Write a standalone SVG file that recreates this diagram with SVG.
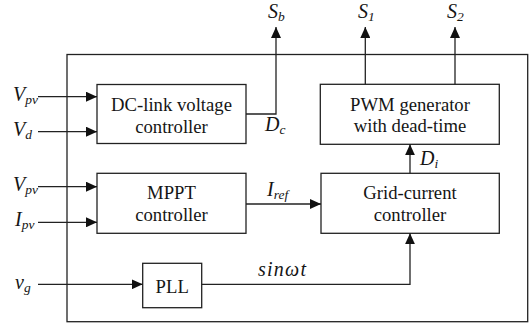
<svg xmlns="http://www.w3.org/2000/svg" width="532" height="330" viewBox="0 0 532 330">
<style>
.box{fill:#fff;stroke:#222;stroke-width:1.3}
.ln{fill:none;stroke:#222;stroke-width:1.3}
text{font-family:"Liberation Serif","Noto Serif","DejaVu Serif",Tinos,"Times New Roman",Times,serif}
.t{font-size:18.7px;fill:#151515;text-anchor:middle}
.l{font-size:20px;font-style:italic;fill:#151515}
.s{font-size:13.5px}
</style>
<defs>
<marker id="ah" markerWidth="11" markerHeight="10" refX="11" refY="5" orient="auto" markerUnits="userSpaceOnUse">
<path d="M0,0 L11,5 L0,10 Z" fill="#111"/>
</marker>
</defs>
<rect x="67" y="54.5" width="460.7" height="267.2" class="ln"/>
<g id="dclink">
<rect class="box" x="97" y="84.5" width="149" height="59"/>
<text class="t" x="171.5" y="111">DC-link voltage</text>
<text class="t" x="171.5" y="133">controller</text>
</g>
<g id="pwm">
<rect class="box" x="320.3" y="84.3" width="179" height="60"/>
<text class="t" x="410" y="110.5">PWM generator</text>
<text class="t" x="410" y="132">with dead-time</text>
</g>
<g id="mppt">
<rect class="box" x="97" y="173.3" width="149" height="60"/>
<text class="t" x="171.5" y="198.5">MPPT</text>
<text class="t" x="171.5" y="220.5">controller</text>
</g>
<g id="grid">
<rect class="box" x="321" y="173.3" width="178.3" height="60"/>
<text class="t" x="410" y="198.5">Grid-current</text>
<text class="t" x="410" y="220.5">controller</text>
</g>
<g id="pll">
<rect class="box" x="142.7" y="263.3" width="59" height="44.4"/>
<text class="t" x="172.2" y="293">PLL</text>
</g>
<g id="connectors">
<line class="ln" x1="38" y1="96.7" x2="97" y2="96.7" marker-end="url(#ah)"/>
<line class="ln" x1="38" y1="131.7" x2="97" y2="131.7" marker-end="url(#ah)"/>
<line class="ln" x1="38" y1="186.7" x2="97" y2="186.7" marker-end="url(#ah)"/>
<line class="ln" x1="38" y1="222.3" x2="97" y2="222.3" marker-end="url(#ah)"/>
<line class="ln" x1="38" y1="284.3" x2="142.7" y2="284.3" marker-end="url(#ah)"/>
<polyline class="ln" points="246,114 276,114 276,27" marker-end="url(#ah)"/>
<line class="ln" x1="365.3" y1="84.3" x2="365.3" y2="27" marker-end="url(#ah)"/>
<line class="ln" x1="455" y1="84.3" x2="455" y2="27" marker-end="url(#ah)"/>
<line class="ln" x1="410" y1="173.3" x2="410" y2="144.3" marker-end="url(#ah)"/>
<line class="ln" x1="246" y1="204" x2="321" y2="204" marker-end="url(#ah)"/>
<polyline class="ln" points="201.7,284.3 410,284.3 410,233.3" marker-end="url(#ah)"/>
</g>
<g id="labels">
<text class="l" x="13" y="100.5">V<tspan class="s" dy="3">pv</tspan></text>
<text class="l" x="13" y="136">V<tspan class="s" dy="3">d</tspan></text>
<text class="l" x="13" y="190.5">V<tspan class="s" dy="3">pv</tspan></text>
<text class="l" x="15" y="226">I<tspan class="s" dy="3">pv</tspan></text>
<text class="l" x="15" y="288.5">v<tspan class="s" dy="3">g</tspan></text>
<text class="l" x="268" y="17.5">S<tspan class="s" dy="3">b</tspan></text>
<text class="l" x="358" y="17.5">S<tspan class="s" dy="3">1</tspan></text>
<text class="l" x="447" y="17.5">S<tspan class="s" dy="3">2</tspan></text>
<text class="l" x="265" y="131">D<tspan class="s" dy="3">c</tspan></text>
<text class="l" x="420" y="165">D<tspan class="s" dy="3">i</tspan></text>
<text class="l" x="267" y="195.5">I<tspan class="s" dy="3">ref</tspan></text>
<text class="l" x="258" y="276" textLength="48">sinωt</text>
</g>
</svg>
